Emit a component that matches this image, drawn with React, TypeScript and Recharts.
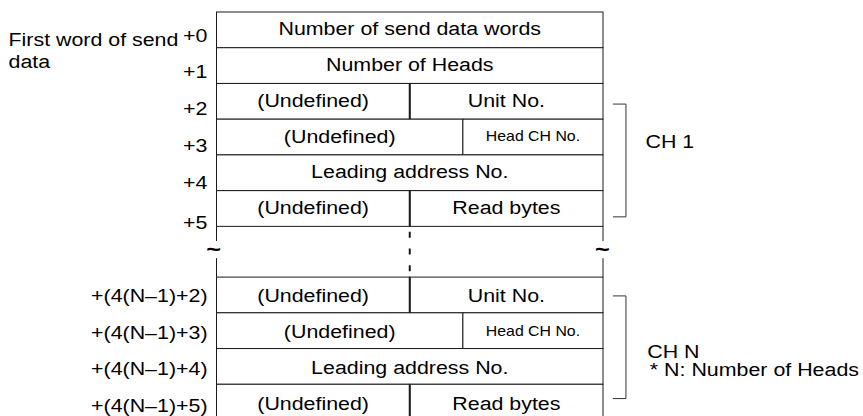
import {
  ComposedChart,
  XAxis,
  YAxis,
  ReferenceArea,
  ReferenceLine,
  ReferenceDot,
} from "recharts";

// One 16-bit word per row, counted from the first word of send data.
const wordOffsets = [
  "+0",
  "+1",
  "+2",
  "+3",
  "+4",
  "+5",
  "+(4(N–1)+2)",
  "+(4(N–1)+3)",
  "+(4(N–1)+4)",
  "+(4(N–1)+5)",
];
const leftFields = [
  "Number of send data words",
  "Number of Heads",
  "(Undefined)",
  "(Undefined)",
  "Leading address No.",
  "(Undefined)",
  "(Undefined)",
  "(Undefined)",
  "Leading address No.",
  "(Undefined)",
];
const rightFields = [
  null,
  null,
  "Unit No.",
  "Head CH No.",
  null,
  "Read bytes",
  "Unit No.",
  "Head CH No.",
  null,
  "Read bytes",
];
// bit where the left field ends (16 = field takes the whole word)
const fieldSplit = [16, 16, 8, 10.2, 16, 8, 8, 10.2, 16, 8];
const smallFields = ["Head CH No."];

const channelNames = ["CH 1", "CH N"];
const channelRows = [
  [2, 5],
  [6, 9],
];
const footnote = "* N: Number of Heads";
const sideLabel = ["First word of send", "data"];

/* --------------------------- layout ---------------------------------------- */

const W = 863;
const H = 420;
const WORD_BITS = 16;
const ROW_GAP = 1.42; // the broken "~" part between CH 1 and CH N
const FONT_FAMILY = '"Liberation Sans", Arial, Helvetica, sans-serif';
const FONT = 18.6;
const SMALL = 13.8;
const TILDE = 22;
const SX = 1.15; // the source type is set a bit wide
const INK = "#1a1a1a";
const TEXT = "#000";
const CAP = 0.716;

const TICK_NUDGE = [5.2, 6.2, 7.1, 8.1, 9.1, 13.4, 0.3, 1.3, 2.2, 3.2];
const BRACKET_INSET = [
  [0.577, 0.266],
  [0.527, 0.6],
];
const BRACKET_X = [16.41, 16.95];
const CH_LABEL_POS = [
  { x: 17.76, y: 3.818 },
  { x: 17.83, y: 9.683 },
];
const FOOTNOTE_POS = { x: 17.94, y: 10.196 };
const SIDE_LABEL_POS = { x: -8.61, y: 0.961 };
const BREAK_Y = [6.41, 6.89, 6.667];

const rowTop = (i: number) => (i < 6 ? i : i + ROW_GAP);
const lastRowEnd = rowTop(wordOffsets.length - 1) + 1;
const tickValues = wordOffsets.map((_, i) => rowTop(i) + 0.5);

function StretchText({
  x,
  y,
  size = FONT,
  anchor = "middle",
  bold = false,
  children,
}: {
  x: number;
  y: number;
  size?: number;
  anchor?: "start" | "middle" | "end";
  bold?: boolean;
  children: React.ReactNode;
}) {
  return (
    <text
      transform={`translate(${x} ${y}) scale(${SX} 1)`}
      textAnchor={anchor}
      fontSize={size}
      fontWeight={bold ? "bold" : "normal"}
      fontFamily={FONT_FAMILY}
      fill={TEXT}
    >
      {children}
    </text>
  );
}

function OffsetTick(props: any) {
  const { x, y, payload } = props;
  const i = tickValues.indexOf(payload.value);
  if (i < 0) return null;
  return (
    <StretchText x={x} y={y + TICK_NUDGE[i] + (CAP * FONT) / 2} anchor="end">
      {wordOffsets[i]}
    </StretchText>
  );
}

function fieldCell(text: string, row: number) {
  const size = smallFields.includes(text) ? SMALL : FONT;
  const nudge = row < 6 ? -1.2 : 0.8;
  return (p: any) => (
    <g>
      <rect x={p.x} y={p.y} width={p.width} height={p.height} fill="#fff" stroke={INK} strokeWidth={1} />
      <StretchText x={p.x + p.width / 2} y={p.y + p.height / 2 + (CAP * size) / 2 + nudge} size={size}>
        {text}
      </StretchText>
    </g>
  );
}

function textAt(
  lines: string[],
  opts: { anchor?: "start" | "middle" | "end"; bold?: boolean; size?: number; dx?: number; dy?: number; lineGap?: number } = {}
) {
  const { anchor = "start", bold = false, size = FONT, dx = 0, dy = 0, lineGap = 22 } = opts;
  return (p: any) => (
    <g>
      {lines.map((l, k) => (
        <StretchText key={k} x={p.cx + dx} y={p.cy + dy + k * lineGap} anchor={anchor} bold={bold} size={size}>
          {l}
        </StretchText>
      ))}
    </g>
  );
}

function seg(key: string, x1: number, y1: number, x2: number, y2: number, extra: any = {}) {
  return (
    <ReferenceLine
      key={key}
      segment={[
        { x: x1, y: y1 },
        { x: x2, y: y2 },
      ]}
      stroke={INK}
      strokeWidth={1}
      ifOverflow="visible"
      {...extra}
    />
  );
}

export default function App() {
  return (
    <div
      style={{
        position: "absolute",
        left: 0,
        top: 0,
        width: W,
        height: 416,
        overflow: "hidden",
        background: "#fff",
        fontFamily: FONT_FAMILY,
      }}
    >
      <ComposedChart width={W} height={H} margin={{ top: 12, right: 260, bottom: 0, left: 0.5 }}>
        <XAxis type="number" dataKey="x" domain={[0, WORD_BITS]} allowDataOverflow hide />
        <YAxis
          type="number"
          domain={[0, lastRowEnd]}
          allowDataOverflow
          reversed
          ticks={tickValues}
          interval={0}
          tick={<OffsetTick />}
          axisLine={false}
          tickLine={false}
          tickSize={6}
          tickMargin={3}
          width={216}
        />

        {/* word fields */}
        {wordOffsets.map((_, i) => {
          const y1 = rowTop(i);
          const cells = [{ x1: 0, x2: fieldSplit[i], text: leftFields[i] }];
          if (rightFields[i]) cells.push({ x1: fieldSplit[i], x2: WORD_BITS, text: rightFields[i] as string });
          return cells.map((c, j) => (
            <ReferenceArea
              key={`cell-${i}-${j}`}
              x1={c.x1}
              x2={c.x2}
              y1={y1}
              y2={y1 + 1}
              ifOverflow="visible"
              shape={fieldCell(c.text, i)}
            />
          ));
        })}

        {/* byte boundary drawn heavier */}
        {wordOffsets.map((_, i) =>
          fieldSplit[i] === 8 ? seg(`split-${i}`, 8, rowTop(i), 8, rowTop(i) + 1, { strokeWidth: 2 }) : null
        )}

        {/* broken section between the channel blocks */}
        {seg("edge-l1", 0, 6, 0, BREAK_Y[0])}
        {seg("edge-l2", 0, BREAK_Y[1], 0, rowTop(6))}
        {seg("edge-r1", WORD_BITS, 6, WORD_BITS, BREAK_Y[0])}
        {seg("edge-r2", WORD_BITS, BREAK_Y[1], WORD_BITS, rowTop(6))}
        {seg("mid-dash", 8, 6, 8, rowTop(6), { strokeWidth: 2, strokeDasharray: "6 10.7", strokeDashoffset: 11.2 })}
        <ReferenceDot
          x={0}
          y={BREAK_Y[2]}
          ifOverflow="visible"
          shape={textAt(["~"], { anchor: "middle", bold: true, size: TILDE, dx: -2.8, dy: 0.33 * TILDE })}
        />
        <ReferenceDot
          x={WORD_BITS}
          y={BREAK_Y[2]}
          ifOverflow="visible"
          shape={textAt(["~"], { anchor: "middle", bold: true, size: TILDE, dx: -0.5, dy: 0.33 * TILDE })}
        />

        {/* channel brackets */}
        {channelRows.map(([first, last], g) => {
          const top = rowTop(first) + BRACKET_INSET[g][0];
          const bottom = rowTop(last) + 1 - BRACKET_INSET[g][1];
          return [
            seg(`br-t-${g}`, BRACKET_X[0], top, BRACKET_X[1], top, { stroke: "#333" }),
            seg(`br-v-${g}`, BRACKET_X[1], top, BRACKET_X[1], bottom, { stroke: "#333" }),
            seg(`br-b-${g}`, BRACKET_X[0], bottom, BRACKET_X[1], bottom, { stroke: "#333" }),
          ];
        })}
        {channelNames.map((name, g) => (
          <ReferenceDot
            key={name}
            x={CH_LABEL_POS[g].x}
            y={CH_LABEL_POS[g].y}
            ifOverflow="visible"
            shape={textAt([name])}
          />
        ))}
        <ReferenceDot x={FOOTNOTE_POS.x} y={FOOTNOTE_POS.y} ifOverflow="visible" shape={textAt([footnote])} />
        <ReferenceDot x={SIDE_LABEL_POS.x} y={SIDE_LABEL_POS.y} ifOverflow="visible" shape={textAt(sideLabel)} />
      </ComposedChart>
    </div>
  );
}
